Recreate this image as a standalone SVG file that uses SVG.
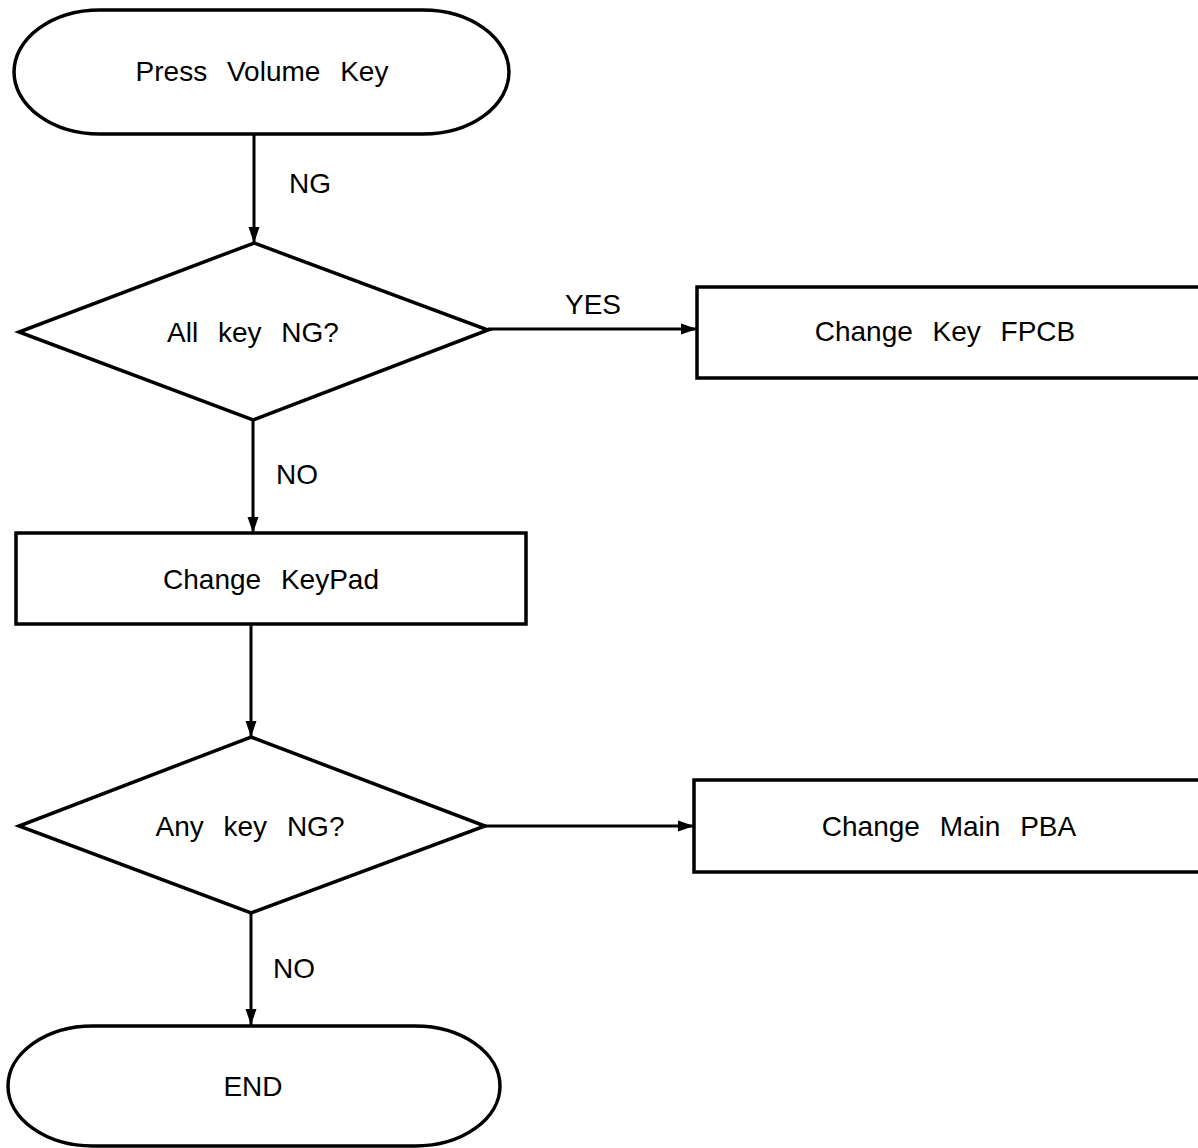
<svg xmlns="http://www.w3.org/2000/svg" width="1198" height="1148" viewBox="0 0 1198 1148">
<defs>
<marker id="ah" markerWidth="16" markerHeight="12" refX="16" refY="6" orient="auto" markerUnits="userSpaceOnUse">
<path d="M0,0.5 L16,6 L0,11.5 Z" fill="#000"/>
</marker>
<style>
.s{fill:#fff;stroke:#000;stroke-width:3.5}
.c{fill:none;stroke:#000;stroke-width:3;marker-end:url(#ah)}
text{font-family:"Liberation Sans",Arial,sans-serif;font-size:28px;fill:#000;word-spacing:12px}
.m{text-anchor:middle}
</style>
</defs>
<rect width="1198" height="1148" fill="#fff"/>
<g id="connectors">
<line class="c" x1="254" y1="134" x2="254" y2="243"/>
<line class="c" x1="488" y1="329" x2="697" y2="329"/>
<line class="c" x1="253" y1="420" x2="253" y2="533"/>
<line class="c" x1="251" y1="624" x2="251" y2="737"/>
<line class="c" x1="485" y1="826" x2="694" y2="826"/>
<line class="c" x1="251" y1="913" x2="251" y2="1025"/>
<text x="289" y="193">NG</text>
<text class="m" x="593" y="314">YES</text>
<text class="m" x="297" y="484">NO</text>
<text class="m" x="294" y="978">NO</text>
</g>
<g id="start">
<path class="s" d="M100,10 H423 A86,62 0 0 1 423,134 H100 A86,62 0 0 1 100,10 Z"/>
<text class="m" x="262" y="81">Press Volume Key</text>
</g>
<g id="d1">
<polygon class="s" points="254,243 488,330 253,420 19,332"/>
<text class="m" x="253" y="342">All key NG?</text>
</g>
<g id="fpcb">
<rect class="s" x="697" y="287" width="510" height="91"/>
<text class="m" x="945" y="341">Change Key FPCB</text>
</g>
<g id="keypad">
<rect class="s" x="16" y="533" width="510" height="91"/>
<text class="m" x="271" y="589">Change KeyPad</text>
</g>
<g id="d2">
<polygon class="s" points="251,737 485,826 251,913 19,826"/>
<text class="m" x="250" y="836">Any key NG?</text>
</g>
<g id="pba">
<rect class="s" x="694" y="780" width="515" height="92"/>
<text class="m" x="949" y="836">Change Main PBA</text>
</g>
<g id="end">
<path class="s" d="M93,1026 H415 A85,60 0 0 1 415,1146 H93 A85,60 0 0 1 93,1026 Z"/>
<text class="m" x="253" y="1096">END</text>
</g>
</svg>
